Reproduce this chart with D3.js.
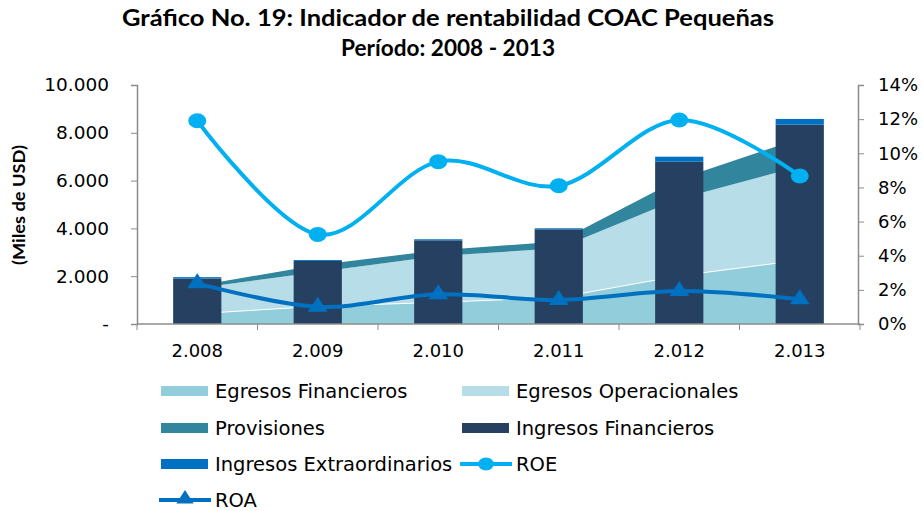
<!DOCTYPE html>
<html>
<head>
<meta charset="utf-8">
<script src="https://cdn.jsdelivr.net/npm/d3@7"></script>
<style>
   body { margin: 0; background: #fff; }
   svg { display: block; }
   text { fill: #000; }
</style>
</head>
<body>
<svg id="chart" width="923" height="511"></svg>
<script>
// categorías (años)
const years = ['2.008', '2.009', '2.010', '2.011', '2.012', '2.013'];

// áreas apiladas (miles de USD)
const egresosFinancieros = [430, 740, 905, 1110, 2015, 2670];
const egresosOperacionales = [1070, 1435, 1940, 2060, 3225, 3930];
const provisiones = [100, 295, 240, 280, 825, 1165];

// barras apiladas (miles de USD)
const ingresosFinancieros = [1900, 2640, 3500, 3960, 6790, 8340];
const ingresosExtra = [60, 40, 45, 45, 210, 240];

// líneas (eje derecho)
const roe = [0.1191, 0.0525, 0.0951, 0.0810, 0.1195, 0.0867];
const roa = [0.0238, 0.0101, 0.0174, 0.0141, 0.0193, 0.0145];

// ticks
const leftTicks = [0, 2000, 4000, 6000, 8000, 10000];
const rightTicks = [0, 0.02, 0.04, 0.06, 0.08, 0.10, 0.12, 0.14];

// colores
const Colors = {
   ef: '#92CDDC',
   eo: '#B7DDE8',
   prov: '#31859C',
   inf: '#254061',
   iex: '#0070C0',
   roe: '#00B0F0',
   roa: '#0070C0',
   axis: '#8C8C8C'
};

const svg = d3.select('#chart');
const plotLeft = 137, plotRight = 860, plotTop = 85, plotBottom = 324;

const x = d3.scaleBand().domain(years).range([plotLeft, plotRight]);
const bw = x.bandwidth();
const cx = (d) => x(d) + bw / 2;
const yL = d3.scaleLinear().domain([0, 10000]).range([plotBottom, plotTop]);
const yR = d3.scaleLinear().domain([0, 0.14]).range([plotBottom, plotTop]);

// título
const title = svg.append('g')
   .attr('font-family', 'Lato, "Open Sans", sans-serif')
   .attr('font-weight', 'bold')
   .attr('font-size', 22)
   .attr('text-anchor', 'middle');
title.append('text').attr('x', 448).attr('y', 26)
   .attr('textLength', 652).attr('lengthAdjust', 'spacingAndGlyphs')
   .text('Gráfico No. 19: Indicador de rentabilidad COAC Pequeñas');
title.append('text').attr('x', 448).attr('y', 56)
   .attr('textLength', 214).attr('lengthAdjust', 'spacingAndGlyphs')
   .text('Período: 2008 - 2013');

// áreas apiladas
const areaRows = years.map((y, i) => ({
   year: y, ef: egresosFinancieros[i], eo: egresosOperacionales[i], prov: provisiones[i]
}));
const stack = d3.stack().keys(['ef', 'eo', 'prov'])(areaRows);
const area = d3.area()
   .x((d) => cx(d.data.year))
   .y0((d) => yL(d[0]))
   .y1((d) => yL(d[1]));

svg.append('g')
   .selectAll('path')
   .data(stack)
   .join('path')
   .attr('d', area)
   .attr('fill', (d) => Colors[d.key]);

// línea blanca sobre egresos financieros
svg.append('path')
   .datum(stack[0])
   .attr('d', d3.line().x((d) => cx(d.data.year)).y((d) => yL(d[1])))
   .attr('fill', 'none')
   .attr('stroke', '#fff')
   .attr('stroke-width', 1);

// barras apiladas
const barW = bw * 0.4;
const bars = svg.append('g');
bars.selectAll('rect.inf')
   .data(years)
   .join('rect')
   .attr('class', 'inf')
   .attr('x', (d) => cx(d) - barW / 2)
   .attr('width', barW)
   .attr('y', (d, i) => yL(ingresosFinancieros[i]))
   .attr('height', (d, i) => yL(0) - yL(ingresosFinancieros[i]))
   .attr('fill', Colors.inf);
bars.selectAll('rect.iex')
   .data(years)
   .join('rect')
   .attr('class', 'iex')
   .attr('x', (d) => cx(d) - barW / 2)
   .attr('width', barW)
   .attr('y', (d, i) => yL(ingresosFinancieros[i] + ingresosExtra[i]))
   .attr('height', (d, i) => yL(ingresosFinancieros[i]) - yL(ingresosFinancieros[i] + ingresosExtra[i]))
   .attr('fill', Colors.iex);

// ejes
const axisFont = '"DejaVu Sans", Verdana, sans-serif';

const xAxis = svg.append('g')
   .attr('transform', `translate(0,${plotBottom})`)
   .call(d3.axisBottom(x).tickSize(0).tickPadding(20))
   .call((g) => g.select('.domain').remove());
xAxis.selectAll('text')
   .attr('font-family', axisFont)
   .attr('font-size', 18)
   .attr('fill', '#000');
svg.append('g')
   .selectAll('line')
   .data(d3.range(years.length + 1))
   .join('line')
   .attr('x1', (i) => plotLeft + i * bw)
   .attr('x2', (i) => plotLeft + i * bw)
   .attr('y1', plotBottom)
   .attr('y2', plotBottom + 6)
   .attr('stroke', Colors.axis);
svg.append('line')
   .attr('x1', plotLeft).attr('x2', plotRight)
   .attr('y1', plotBottom).attr('y2', plotBottom)
   .attr('stroke', Colors.axis).attr('stroke-width', 1.5);

const yAxisL = svg.append('g')
   .attr('transform', `translate(${plotLeft},0)`)
   .call(d3.axisLeft(yL).tickValues(leftTicks).tickSize(6).tickPadding(22)
      .tickFormat((v) => v === 0 ? '-' : d3.format(',')(v).replace(/,/g, '.')));
yAxisL.selectAll('text').attr('font-family', axisFont).attr('font-size', 18.5).attr('fill', '#000');
yAxisL.selectAll('line, path').attr('stroke', Colors.axis);
yAxisL.select('.domain').attr('stroke-width', 1.5);

const yAxisR = svg.append('g')
   .attr('transform', `translate(${plotRight - 2},0)`)
   .call(d3.axisRight(yR).tickValues(rightTicks).tickSize(6).tickPadding(14)
      .tickFormat(d3.format('.0%')));
yAxisR.selectAll('text').attr('font-family', axisFont).attr('font-size', 18).attr('fill', '#000');
yAxisR.selectAll('line, path').attr('stroke', Colors.axis);
yAxisR.select('.domain').attr('stroke-width', 1.5);

// título del eje
svg.append('text')
   .attr('transform', 'translate(25,205) rotate(-90)')
   .attr('text-anchor', 'middle')
   .attr('font-family', 'Lato, "Open Sans", sans-serif')
   .attr('font-weight', 'bold')
   .attr('font-size', 17)
   .attr('textLength', 120).attr('lengthAdjust', 'spacingAndGlyphs')
   .text('(Miles de USD)');

// líneas ROE y ROA
const smooth = d3.curveCardinal.tension(0);
const lineR = d3.line().x((d, i) => cx(years[i])).y((d) => yR(d)).curve(smooth);

svg.append('path')
   .datum(roe)
   .attr('d', lineR)
   .attr('fill', 'none')
   .attr('stroke', Colors.roe)
   .attr('stroke-width', 4);
svg.append('g')
   .selectAll('ellipse')
   .data(roe)
   .join('ellipse')
   .attr('cx', (d, i) => cx(years[i]))
   .attr('cy', (d) => yR(d))
   .attr('rx', 9)
   .attr('ry', 7.5)
   .attr('fill', Colors.roe);

svg.append('path')
   .datum(roa)
   .attr('d', lineR)
   .attr('fill', 'none')
   .attr('stroke', Colors.roa)
   .attr('stroke-width', 4);
const tri = d3.symbol().type(d3.symbolTriangle).size(130);
svg.append('g')
   .selectAll('path')
   .data(roa)
   .join('path')
   .attr('d', tri)
   .attr('transform', (d, i) => `translate(${cx(years[i])},${yR(d)}) scale(1.15,1)`)
   .attr('fill', Colors.roa);

// leyenda
const legendItems = [
   { name: 'Egresos Financieros', type: 'box', color: Colors.ef, x: 161, y: 391 },
   { name: 'Egresos Operacionales', type: 'box', color: Colors.eo, x: 462, y: 391 },
   { name: 'Provisiones', type: 'box', color: Colors.prov, x: 161, y: 428 },
   { name: 'Ingresos Financieros', type: 'box', color: Colors.inf, x: 462, y: 428 },
   { name: 'Ingresos Extraordinarios', type: 'box', color: Colors.iex, x: 161, y: 464 },
   { name: 'ROE', type: 'roe', color: Colors.roe, x: 460, y: 464 },
   { name: 'ROA', type: 'roa', color: Colors.roa, x: 159, y: 500 }
];

const legend = svg.append('g')
   .selectAll('g')
   .data(legendItems)
   .join('g')
   .attr('transform', (d) => `translate(${d.x},${d.y})`);

legend.filter((d) => d.type === 'box')
   .append('rect')
   .attr('x', 0).attr('y', -5)
   .attr('width', 47).attr('height', 10)
   .attr('fill', (d) => d.color);

legend.filter((d) => d.type !== 'box')
   .append('line')
   .attr('x1', 0).attr('x2', 52)
   .attr('y1', 0).attr('y2', 0)
   .attr('stroke', (d) => d.color)
   .attr('stroke-width', 4);
legend.filter((d) => d.type === 'roe')
   .append('ellipse')
   .attr('cx', 26).attr('cy', 0).attr('rx', 8).attr('ry', 6.5)
   .attr('fill', (d) => d.color);
legend.filter((d) => d.type === 'roa')
   .append('path')
   .attr('d', tri)
   .attr('transform', 'translate(26,-1) scale(1,0.9)')
   .attr('fill', (d) => d.color);

legend.append('text')
   .attr('x', (d) => d.type === 'box' ? 54 : 56)
   .attr('y', 6.5)
   .attr('font-family', axisFont)
   .attr('font-size', 19.5)
   .text((d) => d.name);
</script>
</body>
</html>
